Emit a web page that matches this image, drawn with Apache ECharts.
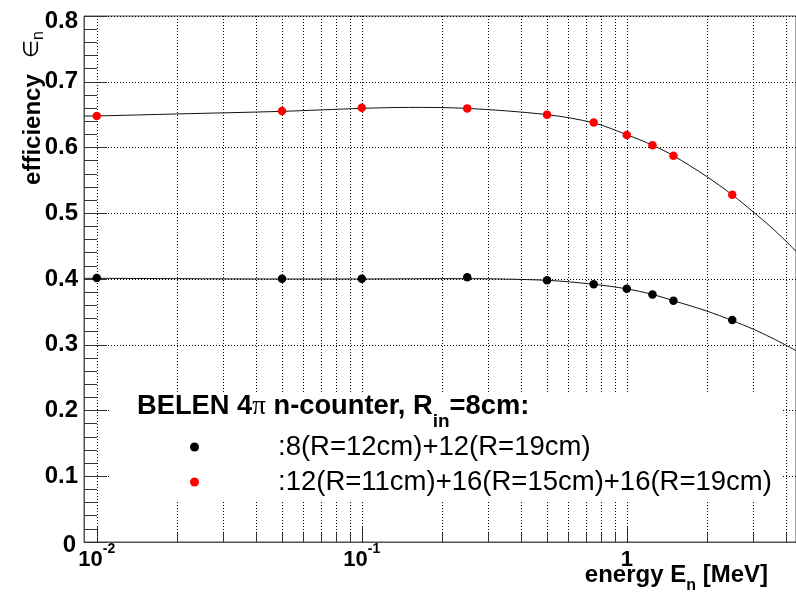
<!DOCTYPE html>
<html>
<head>
<meta charset="utf-8">
<script src="https://cdn.jsdelivr.net/npm/echarts@6/dist/echarts.min.js"></script>
<style>html,body{margin:0;padding:0;background:#fff}#c{width:796px;height:605px}</style>
</head>
<body>
<div id="c"></div>
<script>
// ---- data ----
const energies = [0.01, 0.05, 0.1, 0.25, 0.5, 0.75, 1.0, 1.25, 1.5, 2.5];
const effBlack = [0.4015, 0.4005, 0.4005, 0.4025, 0.398, 0.392, 0.385, 0.3765, 0.367, 0.3375];
const effRed   = [0.648, 0.6555, 0.6605, 0.6595, 0.650, 0.638, 0.619, 0.6035, 0.5875, 0.528];

// fitted curves as traced on the picture
const curveE     = [0.00895, 0.01, 0.02, 0.05, 0.1, 0.15, 0.25, 0.5, 0.75, 1.0, 1.25, 1.5, 2.0, 2.5, 3.0, 3.5, 4.0, 4.35];
const curveBlack = [0.401, 0.401, 0.4005, 0.400, 0.400, 0.4003, 0.4005, 0.398, 0.392, 0.385, 0.3765, 0.367, 0.3514, 0.3368, 0.3237, 0.311, 0.299, 0.291];
const curveRed   = [0.6478, 0.648, 0.651, 0.655, 0.6595, 0.661, 0.6595, 0.650, 0.6375, 0.6195, 0.6035, 0.5875, 0.556, 0.528, 0.502, 0.479, 0.457, 0.442];

const gridE = [0.01,0.02,0.03,0.04,0.05,0.06,0.07,0.08,0.09,
               0.1,0.2,0.3,0.4,0.5,0.6,0.7,0.8,0.9,
               1,2,3,4];
const X_MIN = 0.00895, X_MAX = 4.35;
const Y_MIN = 0, Y_MAX = 0.8, Y_STEP = 0.1;

const nameBlack = ':8(R=12cm)+12(R=19cm)';
const nameRed   = ':12(R=11cm)+16(R=15cm)+16(R=19cm)';

// ---- chart ----
const FONT = "'Liberation Sans', Arial, Helvetica, sans-serif";
const chart = echarts.init(document.getElementById('c'), null, {renderer: 'canvas'});

const zip = (xs, ys) => xs.map((x, i) => [x, ys[i]]);

const option = {
  animation: false,
  backgroundColor: '#fff',
  grid: {left: 84, right: 0, top: 16, bottom: 63, show: true, borderColor: '#555', borderWidth: 1, backgroundColor: 'transparent'},
  xAxis: {
    type: 'log', logBase: 10, min: X_MIN, max: X_MAX,
    axisLine: {show: true, lineStyle: {color: '#555', width: 1}},
    axisTick: {show: true, inside: true, length: 16, lineStyle: {color: '#333'}},
    splitLine: {show: false},
    axisLabel: {
      show: true, showMinLabel: false, showMaxLabel: false, margin: 0,
      formatter: function (v) {
        const e = Math.round(Math.log10(v));
        if (e === 0) return '{b|1}';
        return '{b|10}{sup|' + e + '}';
      },
      rich: {
        b: {fontFamily: FONT, fontWeight: 'bold', fontSize: 22, color: '#000', lineHeight: 36},
        sup: {fontFamily: FONT, fontWeight: 'bold', fontSize: 14, color: '#000', padding: [0, 0, 22, 0]}
      }
    }
  },
  yAxis: {
    type: 'value', min: Y_MIN, max: Y_MAX, interval: Y_STEP,
    axisLine: {show: true, lineStyle: {color: '#555', width: 1}},
    axisTick: {show: true, inside: true, length: 23, lineStyle: {color: '#333'}},
    minorTick: {show: true, splitNumber: 5, length: 13, lineStyle: {color: '#333'}},
    splitLine: {show: true, lineStyle: {color: '#000', type: [1, 2], width: 1}},
    axisLabel: {
      margin: 6,
      formatter: function (v) {
        if (Math.abs(v) < 1e-9) return '{z|0}';
        if (Math.abs(v - Y_MAX) < 1e-9) return '{t|' + v.toFixed(1) + '}';
        return '{n|' + v.toFixed(1) + '}';
      },
      rich: {
        n: {fontFamily: FONT, fontWeight: 'bold', fontSize: 24, color: '#000'},
        t: {fontFamily: FONT, fontWeight: 'bold', fontSize: 24, color: '#000', padding: [10, 0, 0, 0]},
        z: {fontFamily: FONT, fontWeight: 'bold', fontSize: 24, color: '#000', padding: [6, 2, 0, 0]}
      }
    }
  },
  legend: {
    show: true, orient: 'vertical', left: 190, top: 432, padding: 0, itemGap: 5,
    itemWidth: 9, itemHeight: 9, icon: 'circle', selectedMode: false,
    data: [nameBlack, nameRed],
    formatter: function (name) { return '{g| }' + name; },
    textStyle: {fontFamily: FONT, fontSize: 27.5, color: '#000', lineHeight: 30,
      rich: {g: {width: 74, fontSize: 27.5}}}
  },
  graphic: [
    {type: 'rect', z: 1.5, shape: {x: 110, y: 392, width: 673, height: 110}, style: {fill: '#fff'}},
    {type: 'text', z: 5, x: 137, y: 406.5, style: {
      text: '{b|BELEN 4}{p|π}{b| n-counter, R}{s|in}{b|=8cm:}',
      align: 'left', verticalAlign: 'middle',
      rich: {
        b: {fontFamily: FONT, fontWeight: 'bold', fontSize: 27.3, fill: '#000'},
        p: {fontFamily: "'Liberation Serif', 'DejaVu Serif', serif", fontSize: 27, fill: '#000'},
        s: {fontFamily: FONT, fontWeight: 'bold', fontSize: 19, fill: '#000', padding: [31, 0, 0, 0]}
      }
    }},
    {type: 'text', z: 5, x: 768, y: 575, style: {
      text: '{b|energy E}{s|n}{b| [MeV]}',
      align: 'right', verticalAlign: 'middle',
      rich: {
        b: {fontFamily: FONT, fontWeight: 'bold', fontSize: 24, fill: '#000'},
        s: {fontFamily: FONT, fontWeight: 'bold', fontSize: 16, fill: '#000', padding: [21, 0, 0, 0]}
      }
    }},
    {type: 'text', z: 5, x: 33, y: 31, rotation: Math.PI / 2, style: {
      text: '{b|efficiency}{g| }{e|∈}{s|n}',
      align: 'right', verticalAlign: 'middle',
      rich: {
        b: {fontFamily: FONT, fontWeight: 'bold', fontSize: 24, fill: '#000'},
        g: {fontFamily: FONT, fontSize: 24, width: 16},
        e: {fontFamily: "'DejaVu Sans', sans-serif", fontSize: 21, fill: '#000'},
        s: {fontFamily: FONT, fontSize: 16, fill: '#000', padding: [12, 0, 0, 0]}
      }
    }}
  ],
  series: [
    {
      type: 'custom', name: 'grid', z: 1, silent: true, clip: false,
      data: gridE.map(v => [v, Y_MIN]),
      encode: {x: 0, y: 1},
      renderItem: function (params, api) {
        const v = api.value(0);
        const lg = Math.log10(v);
        const minor = Math.abs(lg - Math.round(lg)) > 1e-6;
        const b = api.coord([v, Y_MIN]);
        const t = api.coord([v, Y_MAX]);
        const x = Math.round(b[0]) + 0.5;
        const children = [{
          type: 'line', shape: {x1: x, y1: b[1], x2: x, y2: t[1]},
          style: {stroke: '#000', lineWidth: 1, lineDash: [1, 2]}
        }];
        if (minor) children.push({
          type: 'line', shape: {x1: x, y1: b[1], x2: x, y2: b[1] - 9},
          style: {stroke: '#333', lineWidth: 1}
        });
        return {type: 'group', children: children};
      }
    },
    {
      type: 'line', name: 'fitRed', z: 2, data: zip(curveE, curveRed), showSymbol: false, symbol: 'none',
      smooth: 0.3, lineStyle: {color: '#111', width: 1}, silent: true
    },
    {
      type: 'line', name: 'fitBlack', z: 2, data: zip(curveE, curveBlack), showSymbol: false, symbol: 'none',
      smooth: 0.3, lineStyle: {color: '#111', width: 1}, silent: true
    },
    {
      type: 'scatter', name: nameBlack, z: 3, data: zip(energies, effBlack),
      symbol: 'circle', symbolSize: 8.5, itemStyle: {color: '#000', opacity: 1}
    },
    {
      type: 'scatter', name: nameRed, z: 3, data: zip(energies, effRed),
      symbol: 'circle', symbolSize: 8.5, itemStyle: {color: '#ff0000', opacity: 1}
    }
  ]
};
chart.setOption(option);
</script>
</body>
</html>
